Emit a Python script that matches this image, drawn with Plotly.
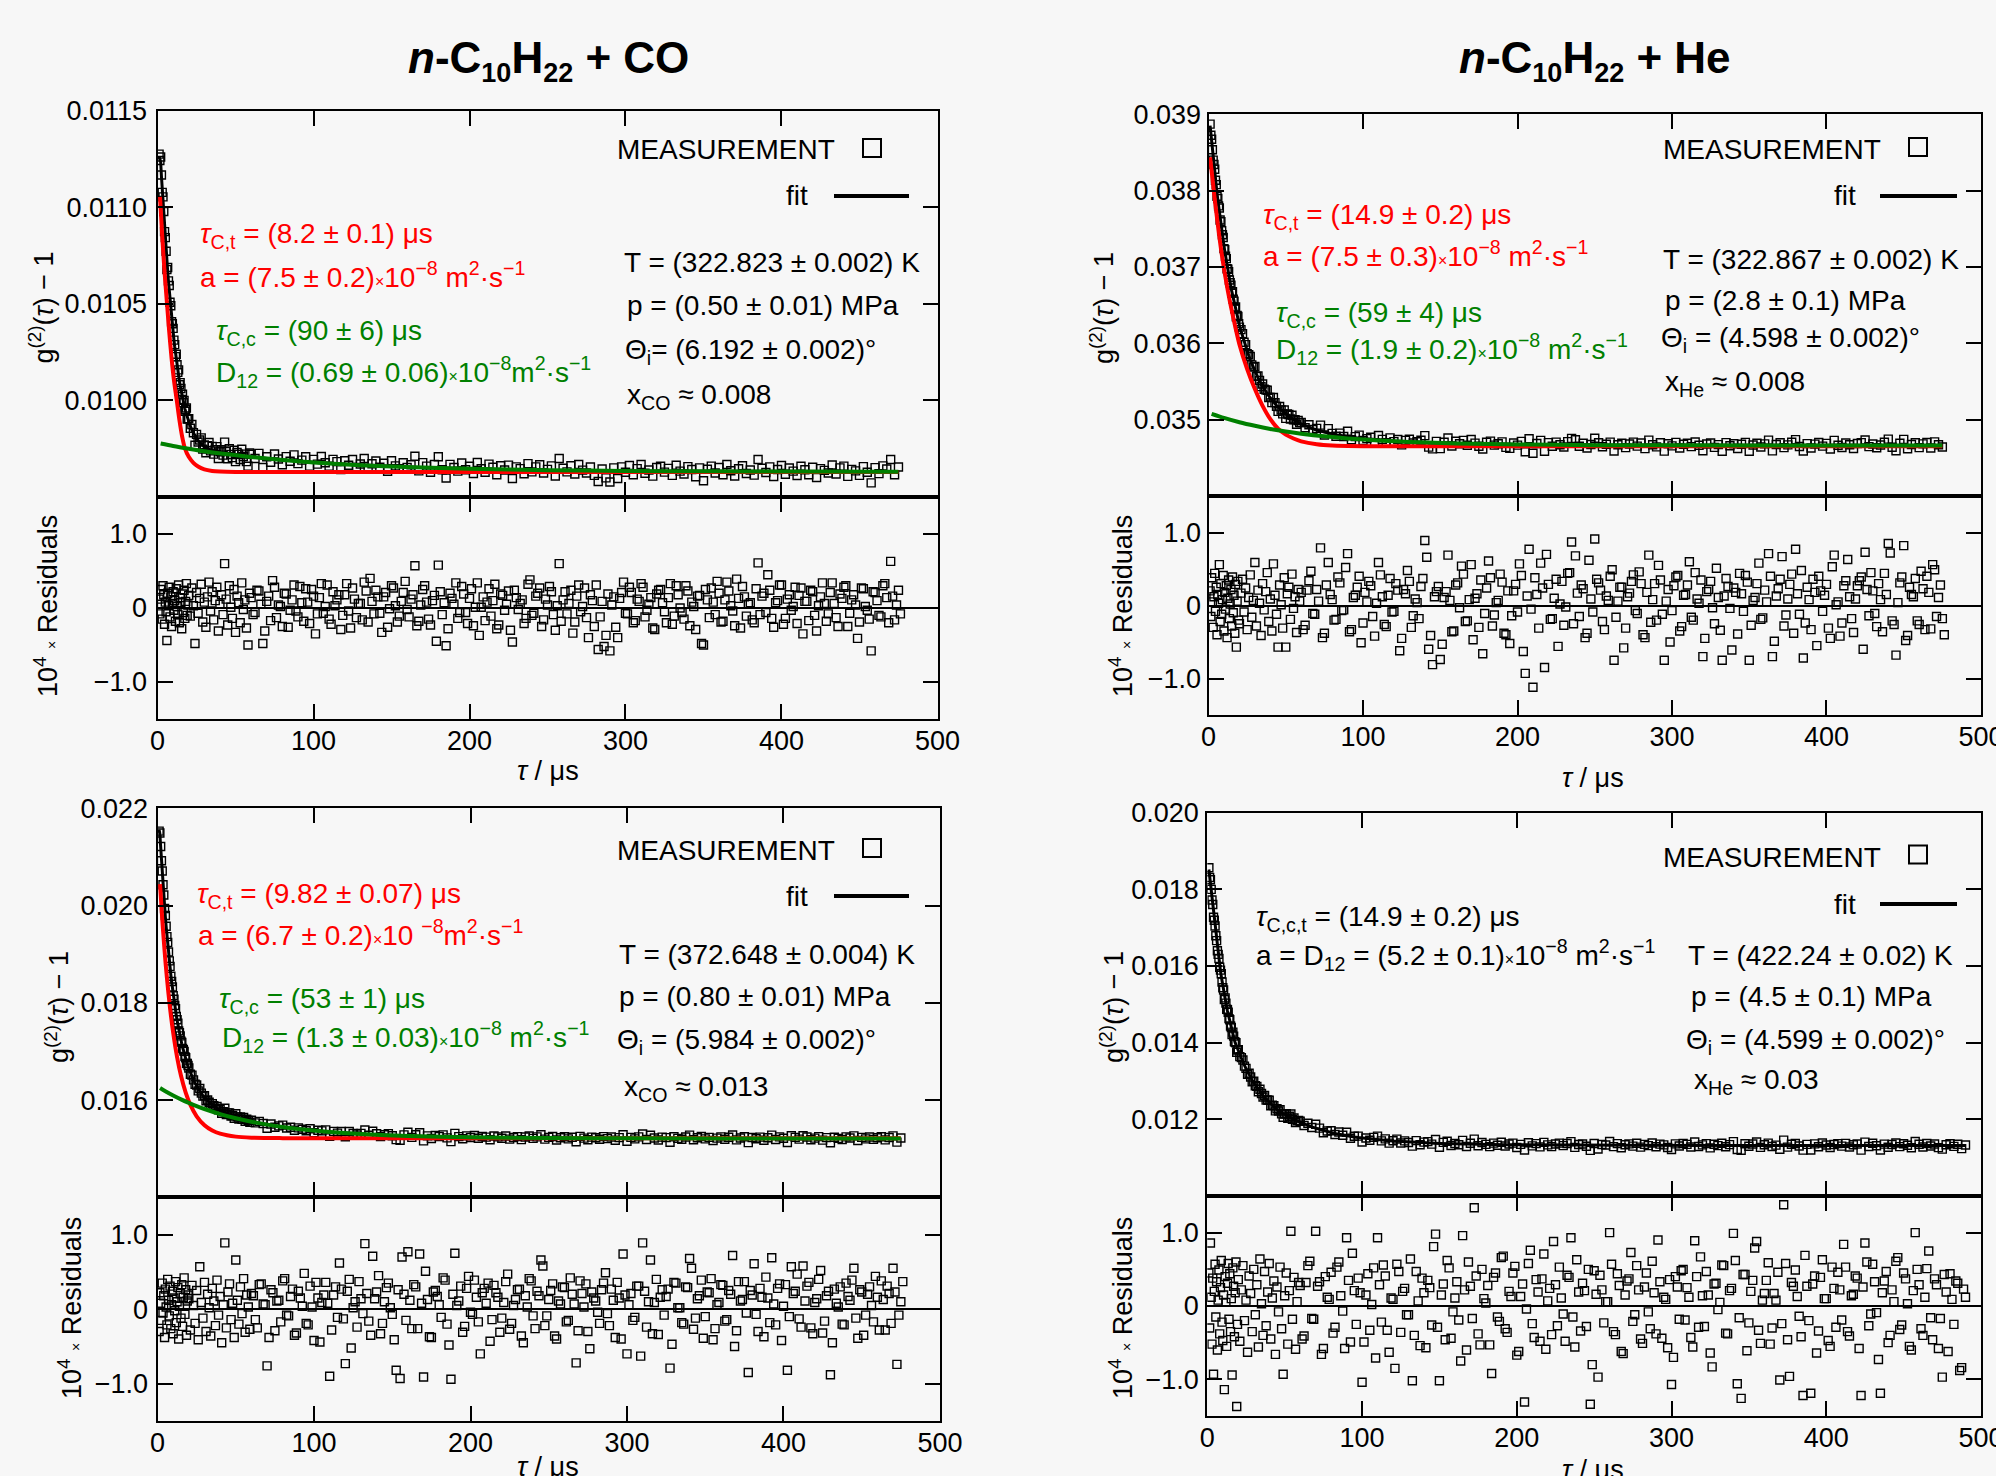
import numpy as np
import plotly.graph_objects as go

W, H = 1996, 1476
FONT = "Liberation Sans, Arial, Helvetica, sans-serif"
BG = "#f7f7f7"
RED = "#ff0000"
GREEN = "#008000"

G_UNIT = 1e-6      # g2-1 value lists are in units of 1e-6
RES_UNIT = 0.01    # residual lists are in units of 0.01 (of 10^4 x residual)

# lag-time grid segments (start, step) in microseconds
SEG_A = (1.0, 0.5)
SEG_B = (20.0, 1.0)
SEG_C = (60.0, 2.5)
SEG_D = (61.25, 2.5)   # extra residual samples between the SEG_C lags

x_ticks = [0, 100, 200, 300, 400, 500]
res_ticks = [-1.0, 0.0, 1.0]
res_ticktext = ["\u22121.0", "0", "1.0"]

# ---------------- top-left: n-C10H22 + CO, 322.823 K ----------------
fit_tl_a = [11263, 11250, 11235, 11162, 11092, 11024, 10960, 10896, 10835, 10777,
            10721, 10668, 10616, 10567, 10520, 10475, 10432, 10391, 10351, 10315,
            10279, 10245, 10213, 10183, 10154, 10127, 10101, 10078, 10055, 10033,
            10013, 9994, 9976, 9958, 9943, 9928, 9914, 9901]
fit_tl_b = [9889, 9867, 9848, 9830, 9816, 9803, 9792, 9782, 9774, 9767,
            9761, 9755, 9751, 9747, 9743, 9740, 9738, 9735, 9733, 9730,
            9729, 9727, 9726, 9724, 9723, 9721, 9720, 9719, 9718, 9717,
            9716, 9715, 9714, 9714, 9713, 9712, 9711, 9710, 9709, 9708]
fit_tl_c = [9707, 9705, 9703, 9701, 9699, 9697, 9695, 9693, 9692, 9690,
            9688, 9687, 9685, 9684, 9682, 9681, 9679, 9678, 9677, 9675,
            9674, 9673, 9672, 9671, 9670, 9668, 9667, 9666, 9665, 9664,
            9663, 9663, 9662, 9661, 9660, 9659, 9658, 9658, 9657, 9656,
            9655, 9655, 9654, 9653, 9653, 9652, 9651, 9651, 9650, 9650,
            9649, 9649, 9648, 9648, 9647, 9647, 9646, 9646, 9645, 9645,
            9645, 9644, 9644, 9643, 9643, 9643, 9642, 9642, 9642, 9641,
            9641, 9641, 9640, 9640, 9640, 9640, 9639, 9639, 9639, 9639,
            9638, 9638, 9638, 9638, 9637, 9637, 9637, 9637, 9637, 9636,
            9636, 9636, 9636, 9636, 9636, 9635, 9635, 9635, 9635, 9635,
            9635, 9635, 9635, 9635, 9634, 9634, 9634, 9634, 9634, 9634,
            9634, 9634, 9634, 9634, 9634, 9634, 9634, 9633, 9633, 9633,
            9633, 9633, 9633, 9633, 9633, 9633, 9633, 9633, 9633, 9633,
            9633, 9633, 9633, 9632, 9632, 9632, 9632, 9632, 9632, 9632,
            9632, 9632, 9632, 9632, 9632, 9632, 9632, 9632, 9632, 9632,
            9632, 9632, 9632, 9632, 9632, 9631, 9631, 9631, 9631, 9631,
            9631, 9631, 9631, 9631, 9631, 9631, 9631]
res_tl_a = [12, -8, 25, 5, -15, 30, 18, -22, 8, -5, -44, 20, 3, 28, -12, 15, -25, 6, 22, -3,
            10, -18, 26, 2, -9, 31, -20, 14, 7, -28, 19, -6, 24, -14, 9, 33, -10, 4]
res_tl_b = [17, -11, 27, 3, -48, 21, -7, 13, 32, -19, 8, -26, 15, 35, -4, 22, -16, 10, 28, -31,
            5, 18, -9, 60, 12, -23, 30, 1, -14, 25, -33, 16, 7, -20, 34, -2, 11, -27, -50, 20]
res_tl_c = [14, -6, 23, -48, 9, -17, 28, 4, -25, 19,
            -3, 31, -12, 7, 26, -21, 16, -8, 33, 2,
            -15, 22, 11, -29, 18, -4, 27, -13, 6, 35,
            -19, 9, 24, -7, 15, -26, 30, 3, -11, 21,
            -2, 12, 57, -18, 25, 8, -23, 17, 58, -9,
            -51, 20, 5, -14, 29, -6, 13, -24, 34, 1,
            -17, 26, 10, -28, 19, -3, 23, -46, 14, 6,
            -21, 32, -10, 16, 27, -16, 4, 22, -30, 60,
            11, -8, 24, -19, 31, 2, -13, 18, -25, -56,
            9, -37, -58, 15, -40, 21, -7, 28, -20, 12,
            33, -12, 5, -27, 19, 25, -5, 14, -22, 30,
            0, -15, 23, 8, -29, 17, -50, 11, 27, -9,
            20, -18, 35, 3, -24, 13, 29, -11, 7, -20,
            61, 16, -6, 24, -26, 10, 31, -14, 18, 2,
            -21, 27, 9, -17, 22, -31, 15, 6, -8, 34,
            -13, 19, 28, -25, 11, 4, -19, 26, -3, -58,
            21, -10, 30, 14, 63, -16, 24]
res_tl_d = [-9, 24, 5, -31, 16, 37, -13, 2, 20, -26,
            11, -4, 29, -18, 8, 25, -35, 14, -7, 31,
            -22, 3, 18, -10, 33, -27, 12, 6, -16, 23,
            40, -8, 15, -33, 21, -1, 27, -19, 9, 36,
            -12, 18, -24, 4, 30, -15, 10, -45, 22, 7,
            -28, 13, 34, -6, 19, -21, 26, 1, -37, 15,
            8, -11, 32, -23, 17, 5, -30, 24, -2, 11,
            -14, 38, -7, 20, -25, 12, 29, -9, 3, -18,
            22, 6, -34, 16, -5, 27, -40, 10, 31, -12,
            -52, 19, 4, -26, 13, 35, -8, 21, -17, 9,
            28, -3, 14, -29, 24, 7, -20, 33, -11, 18,
            -6, 30, -24, 2, 16, -48, 25, -13, 8, 36,
            -19, 11, 23, -4, 39, -27, 15, 5, -16, 26,
            -9, 20, 45, -14, 7, 31, -22, 12, -3, 28,
            17, -35, 9, 24, -10, 3, 34, -18, 21, 6,
            -25, 13, 30, -7, 18, -41, 27, 2, -15, 22,
            10, -12, 33, -20, 16, 4, -8]
red_tl_t = [1.6, 3, 4.5, 5.9, 7.5, 9, 10.5, 12.3, 14, 15.8, 17.6, 20, 23, 26, 30, 35, 40, 50, 100, 200, 300, 400, 475]
red_tl_v = [11054, 10852, 10666, 10519, 10355, 10218, 10106, 10002, 9900, 9812, 9750, 9708, 9677, 9658,
            9643, 9635, 9632, 9630, 9630, 9630, 9630, 9630, 9630]
green_tl_t = [2, 10, 20, 30, 45, 60, 80, 100, 130, 160, 200, 250, 300, 350, 400, 475]
green_tl_v = [9777, 9764, 9750, 9737, 9721, 9707, 9692, 9679, 9665, 9655, 9646, 9639, 9635, 9633, 9632, 9631]

# ---------------- top-right: n-C10H22 + He, 322.867 K ----------------
fit_tr_a = [38850, 38740, 38634, 38530, 38429, 38330, 38235, 38143, 38052, 37965,
            37880, 37796, 37715, 37637, 37561, 37486, 37414, 37344, 37275, 37209,
            37144, 37081, 37020, 36960, 36902, 36846, 36791, 36737, 36686, 36636,
            36586, 36538, 36491, 36447, 36403, 36359, 36318, 36277]
fit_tr_b = [36237, 36162, 36090, 36022, 35958, 35897, 35839, 35784, 35733, 35683,
            35637, 35592, 35550, 35511, 35473, 35437, 35403, 35371, 35340, 35311,
            35283, 35258, 35232, 35209, 35186, 35165, 35145, 35126, 35107, 35089,
            35073, 35057, 35042, 35028, 35014, 35001, 34988, 34977, 34966, 34955]
fit_tr_c = [34945, 34921, 34900, 34881, 34864, 34849, 34836, 34823, 34812, 34802,
            34793, 34785, 34777, 34770, 34763, 34757, 34752, 34747, 34743, 34739,
            34734, 34730, 34727, 34724, 34720, 34718, 34715, 34713, 34711, 34708,
            34706, 34704, 34702, 34700, 34698, 34696, 34695, 34693, 34691, 34690,
            34689, 34687, 34686, 34685, 34684, 34683, 34682, 34681, 34680, 34680,
            34679, 34678, 34677, 34677, 34676, 34675, 34675, 34674, 34673, 34673,
            34672, 34672, 34671, 34671, 34670, 34670, 34670, 34669, 34669, 34668,
            34668, 34668, 34667, 34667, 34667, 34666, 34666, 34666, 34666, 34665,
            34665, 34665, 34665, 34665, 34664, 34664, 34664, 34664, 34664, 34664,
            34663, 34663, 34663, 34663, 34663, 34663, 34663, 34663, 34663, 34663,
            34662, 34662, 34662, 34662, 34662, 34662, 34662, 34662, 34662, 34662,
            34662, 34662, 34661, 34661, 34661, 34661, 34661, 34661, 34661, 34661,
            34661, 34661, 34661, 34661, 34661, 34661, 34661, 34661, 34661, 34661,
            34661, 34661, 34661, 34661, 34661, 34661, 34660, 34660, 34660, 34660,
            34660, 34660, 34660, 34660, 34660, 34660, 34660, 34660, 34660, 34660,
            34660, 34660, 34660, 34660, 34660, 34660, 34660, 34660, 34660, 34660,
            34660, 34660, 34660, 34660, 34660, 34660, 34660]
res_tr_a = [20, -15, 38, 5, -30, 12, 44, -8, 25, -40, 15, 3, 56, -22, 30, -12, 8, 41, -35, 18,
            -5, 27, -44, 10, 35, -18, 2, 22, -28, 39, -10, 14, -38, 29, -57, 6, 33, -20]
res_tr_b = [-25, 17, 36, -9, 24, -33, 11, 42, -16, 7, 59, -28, 21, 3, -41, 30, -6, 19, 45, -22,
            9, -35, 57, 14, -12, -57, 28, 1, -31, 38, -57, 16, 25, -19, 43, -4, 12, -37, 22, 6]
res_tr_c = [18, -27, 34, -11, 22, 79, -38, 59, 8, -19,
            31, -6, 71, -33, 14, 40, -24, 5, 27, -42,
            59, 12, -29, 37, -8, 21, -45, 16, 33, -14,
            4, 26, 89, -60, -81, 19, -74, 11, 69, -36,
            28, -3, 43, -21, 56, 10, -30, -66, 24, 38,
            -13, 7, 32, -40, -52, 20, -9, 41, -93, 77,
            -112, 15, 58, -85, 29, -18, 36, 2, -27, 44,
            87, 68, -15, 23, -38, 9, 91, 31, -22, 13,
            40, -75, 6, 25, -31, 17, 42, -11, 30, -44,
            69, 8, -20, 35, -75, 22, -7, 39, -35, 14,
            28, -16, 45, 3, -70, 19, 33, -25, 11, -75,
            37, -4, 24, -39, 16, 41, -75, 7, 30, -19,
            21, 71, -70, 13, 36, -28, 9, 43, 77, -12,
            -72, 25, -33, 18, 40, -8, 29, -45, 69, 5,
            -24, 34, 12, -37, 27, 39, 73, -14, 20, -29,
            8, 44, 85, -21, -68, 31, 82, -41, 15, 37,
            -26, 23, 40, -32, 49, 11, -18]
res_tr_d = [-33, 21, 47, -12, 6, -44, 28, 15, -20, 39,
            -7, 52, -36, 11, 25, -51, 18, 33, -15, 3,
            42, -26, 14, -9, 30, -62, 22, 48, -30, 9,
            -18, 37, 66, -41, 12, 26, -53, 19, 7, -35,
            31, 54, -22, 8, -47, 16, 35, -11, 61, -28,
            4, 43, -38, 20, -14, 29, 57, -63, 13, -5,
            38, -31, 24, 70, -19, 10, -56, 33, -2, 45,
            -25, 17, 28, -44, 62, -9, 36, 21, -33, 7,
            49, -16, 25, -58, 12, 33, -7, 46, -40, 18,
            -23, 30, 55, -12, 6, -50, 27, 41, -29, 15,
            60, -20, 9, 35, -45, 22, -3, 51, -34, 13,
            26, -61, 18, 44, -8, 32, -27, 11, 58, -17,
            5, 40, -49, 23, 67, -13, 29, -38, 16, 48,
            -24, 8, 36, -55, 20, 14, -31, 53, 1, -42,
            27, 63, -18, 9, 34, -60, 22, 45, -11, 30,
            -36, 15, 72, -26, 4, 39, -48, 25, 12, -21,
            47, -33, 18, 56, -15, 28, -40]
red_tr_t = [1, 4, 8, 12, 16, 20, 25, 30, 35, 40, 45, 50, 55, 60, 70, 80, 100, 150, 250, 350, 475]
red_tr_v = [38437, 37891, 37246, 36741, 36336, 35983, 35663, 35401, 35180, 35006, 34883, 34803, 34753,
            34716, 34677, 34660, 34652, 34652, 34652, 34652, 34652]
green_tr_t = [2, 10, 20, 30, 40, 50, 60, 75, 90, 110, 130, 160, 200, 250, 300, 400, 475]
green_tr_v = [35076, 35023, 34966, 34919, 34878, 34844, 34816, 34781, 34754, 34727, 34708, 34689,
              34675, 34666, 34663, 34660, 34660]

# ---------------- bottom-left: n-C10H22 + CO, 372.648 K ----------------
fit_bl_a = [21559, 21469, 21206, 20934, 20675, 20431, 20198, 19977, 19768, 19569,
            19381, 19202, 19032, 18870, 18717, 18572, 18433, 18302, 18177, 18059,
            17947, 17840, 17738, 17642, 17550, 17462, 17379, 17300, 17225, 17153,
            17086, 17020, 16959, 16900, 16844, 16790, 16740, 16691]
fit_bl_b = [16645, 16559, 16481, 16410, 16345, 16285, 16231, 16180, 16134, 16093,
            16054, 16018, 15985, 15955, 15926, 15899, 15875, 15853, 15831, 15811,
            15793, 15774, 15758, 15742, 15727, 15714, 15700, 15688, 15675, 15664,
            15653, 15643, 15632, 15622, 15613, 15604, 15596, 15587, 15579, 15571]
fit_bl_c = [15564, 15546, 15529, 15513, 15498, 15484, 15472, 15459, 15447, 15436,
            15425, 15415, 15406, 15397, 15388, 15380, 15372, 15365, 15358, 15351,
            15344, 15338, 15332, 15327, 15321, 15316, 15311, 15307, 15302, 15298,
            15294, 15290, 15286, 15283, 15279, 15276, 15273, 15270, 15267, 15265,
            15262, 15260, 15258, 15255, 15253, 15251, 15249, 15248, 15246, 15244,
            15243, 15241, 15240, 15238, 15237, 15236, 15235, 15233, 15232, 15231,
            15230, 15229, 15229, 15228, 15227, 15226, 15225, 15225, 15224, 15223,
            15223, 15222, 15222, 15221, 15221, 15220, 15220, 15219, 15219, 15218,
            15218, 15218, 15217, 15217, 15217, 15216, 15216, 15216, 15215, 15215,
            15215, 15215, 15215, 15214, 15214, 15214, 15214, 15213, 15213, 15213,
            15213, 15213, 15213, 15213, 15213, 15212, 15212, 15212, 15212, 15212,
            15212, 15212, 15212, 15212, 15212, 15212, 15212, 15212, 15212, 15212,
            15212, 15212, 15211, 15211, 15211, 15211, 15211, 15211, 15211, 15211,
            15211, 15211, 15211, 15211, 15211, 15211, 15211, 15210, 15210, 15210,
            15210, 15210, 15210, 15210, 15210, 15210, 15210, 15210, 15210, 15210,
            15210, 15210, 15210, 15210, 15210, 15210, 15210, 15210, 15210, 15210,
            15210, 15210, 15210, 15210, 15210, 15210, 15210]
res_bl_a = [-30, 22, 8, -15, 35, -5, 18, -38, 27, 3, -21, 40, 12, -9, 31, -26, 6, 24, -33, 15,
            -2, 37, -18, 10, 29, -40, 4, 21, -12, 33, -23, 16, 42, -7, 26, -35, 11, 19]
res_bl_b = [14, -28, 32, 5, -19, 25, -41, 57, 9, -12, 36, -30, 20, 2, -36, 28, 11, -22, 39, -8,
            17, -45, 6, 89, -25, 23, 34, -14, 8, -38, 66, 12, -20, 30, -6, 41, -31, 19, 3, -27]
res_bl_c = [21, -14, 33, 7, -76, 26, -29, 12, 38, -8,
            17, -35, 24, 4, -19, 31, -42, 15, 9, 36,
            -90, 19, -11, 27, -73, 40, 2, -24, 14, 88,
            -16, 71, 23, -33, 10, 35, -7, -82, -93, 20,
            77, -26, 30, 74, -91, 13, -38, 25, 6, 42,
            -20, -94, 75, 11, -31, 28, -4, 39, -17, 22,
            8, -43, 32, 16, -12, 37, -27, 5, 26, -36,
            18, 41, -9, 24, 66, -22, 13, 34, -40, 7,
            29, -15, 20, -72, 38, 3, -30, 23, 11, -19,
            35, -6, 27, -38, 15, 74, -60, 21, -11, 31,
            89, -24, 66, 9, -34, 26, 17, -79, 36, 2,
            -18, 30, 68, -27, 14, 39, -10, 22, -41, 6,
            33, -16, 25, 72, -29, 11, 37, -85, 19, -7,
            28, -37, 15, 69, -21, 34, 4, -82, 57, 24,
            -13, 58, 31, -25, 9, 40, -32, 18, -88, 27,
            3, -20, 35, 12, 55, -39, 23, -8, 30, -17,
            16, 38, -28, 21, 55, -74, 10]
res_bl_d = [18, -25, 34, 6, -38, 22, 11, -17, 41, -9,
            27, -32, 15, 48, -21, 3, 36, -44, 19, 8,
            -28, 30, 62, -13, 24, -52, 10, 37, -6, 21,
            -35, 14, 45, -19, 29, 2, -41, 26, 70, -15,
            12, 33, -26, 8, 51, -37, 23, 17, -11, 39,
            -48, 20, 5, 31, -23, 44, -7, 16, -60, 28,
            35, -14, 22, -31, 9, 47, -19, 13, 27, -45,
            3, 38, -26, 18, 58, -9, 25, -36, 11, 30,
            -17, 42, 7, -29, 21, 34, -53, 15, -4, 26,
            49, -22, 12, 36, -40, 19, 6, -15, 31, -63,
            24, 10, -33, 40, 16, -8, 27, -47, 35, 2,
            -20, 29, 55, -12, 18, -39, 23, 41, -26, 9,
            32, -14, 20, -50, 37, 13, -5, 25, 61, -30,
            16, 43, -18, 7, 28, -42, 33, -10, 21, 47,
            -24, 11, 36, -33, 14, 52, -16, 24, -45, 8,
            30, -21, 17, 39, -12, 26, -35, 20, 5, 44,
            -28, 13, 31, -19, 23, -8, 37]
red_bl_t = [1.6, 3, 4.5, 6, 8, 10, 12.5, 15, 18, 21, 25, 30, 35, 40, 50, 60, 80, 100, 200, 300, 400, 475]
red_bl_v = [20439, 19727, 19071, 18511, 17888, 17384, 16884, 16500, 16154, 15901, 15667, 15483, 15374,
            15310, 15249, 15228, 15218, 15216, 15216, 15216, 15216, 15216]
green_bl_t = [1.6, 5, 10, 15, 20, 25, 30, 40, 50, 60, 75, 90, 110, 130, 160, 200, 250, 300, 400, 475]
green_bl_v = [16247, 16183, 16095, 16015, 15943, 15877, 15817, 15713, 15626, 15555, 15470, 15406,
              15344, 15302, 15262, 15235, 15220, 15214, 15211, 15210]

# ---------------- bottom-right: n-C10H22 + He, 422.24 K ----------------
fit_br_a = [18517, 18338, 18166, 17987, 17774, 17567, 17367, 17174, 16987, 16805,
            16630, 16460, 16295, 16146, 16005, 15868, 15735, 15606, 15481, 15360,
            15242, 15128, 15026, 14927, 14830, 14736, 14645, 14556, 14469, 14385,
            14303, 14223, 14145, 14069, 13995, 13940, 13887, 13834]
fit_br_b = [13783, 13683, 13587, 13495, 13407, 13322, 13241, 13163, 13088, 13017,
            12948, 12888, 12831, 12776, 12722, 12671, 12622, 12574, 12528, 12484,
            12441, 12400, 12361, 12323, 12286, 12251, 12224, 12198, 12173, 12149,
            12125, 12102, 12080, 12058, 12037, 12016, 11996, 11977, 11958, 11940]
fit_br_c = [11922, 11880, 11841, 11804, 11770, 11738, 11709, 11682, 11656, 11633,
            11611, 11590, 11571, 11554, 11539, 11525, 11512, 11500, 11489, 11478,
            11468, 11459, 11450, 11442, 11434, 11427, 11420, 11414, 11408, 11402,
            11397, 11392, 11388, 11383, 11379, 11376, 11372, 11369, 11366, 11363,
            11360, 11358, 11355, 11353, 11351, 11349, 11347, 11346, 11344, 11342,
            11341, 11340, 11338, 11337, 11336, 11335, 11334, 11333, 11332, 11331,
            11331, 11330, 11329, 11329, 11328, 11328, 11327, 11327, 11326, 11326,
            11325, 11325, 11325, 11324, 11324, 11324, 11323, 11323, 11323, 11323,
            11323, 11322, 11322, 11322, 11322, 11322, 11322, 11322, 11321, 11321,
            11321, 11321, 11321, 11321, 11321, 11321, 11321, 11321, 11321, 11321,
            11321, 11321, 11321, 11321, 11321, 11320, 11320, 11320, 11320, 11320,
            11320, 11320, 11320, 11320, 11320, 11320, 11320, 11320, 11320, 11320,
            11320, 11320, 11320, 11320, 11320, 11320, 11320, 11320, 11320, 11320,
            11320, 11320, 11320, 11320, 11320, 11320, 11320, 11320, 11320, 11320,
            11320, 11320, 11320, 11320, 11320, 11320, 11320, 11320, 11320, 11320,
            11320, 11320, 11320, 11320, 11320, 11320, 11320, 11320, 11320, 11320,
            11320, 11320, 11320, 11320, 11320, 11320, 11320, 11320, 11320, 11320,
            11320, 11320, 11320]
res_br_a = [45, -30, 86, 12, -52, 38, -93, 20, 57, -15, 33, -60, 8, 49, -38, 25, 62, -22, -47, 15,
            -114, 40, 5, -55, 31, 58, -18, 44, -35, 10, -94, 52, 27, -42, 18, 60, -137, -25]
res_br_b = [36, -48, 22, 55, -20, 8, -63, 41, 17, -35, 50, -12, 29, -56, 64, 3, -40, 47, -27, 19,
            58, -45, 11, 34, -66, 26, -8, 53, -31, -93, 14, 45, -52, 21, 102, -18, 39, -59, 6, 32]
res_br_c = [28, -41, 55, -17, 102, 33, -58, 12, 46, -29,
            60, -7, 93, -49, 21, 38, -104, 15, -33, 52,
            93, -22, 41, -63, 9, 57, -36, 24, -12, -102,
            47, -54, 18, 35, -26, 98, -102, 30, 62, -44,
            11, -19, 96, -60, 27, 134, -38, 50, 4, -53,
            39, -15, 66, -31, 20, 45, -67, 13, -131, 58,
            -24, 36, -48, 71, 7, -39, 29, 53, -11, 42,
            93, -56, 19, 31, -28, -134, 48, -97, 22, 6,
            100, -35, 44, -62, 15, 37, -21, 55, -45, 26,
            -8, 61, -38, 33, 12, -57, -107, 40, -18, 50,
            25, -43, 89, -29, 14, 47, -64, 30, -5, 56,
            -37, 21, 99, -106, -126, 43, -23, 35, 88, -51,
            17, 59, -30, 8, -101, 138, -46, 32, 49, -14,
            -122, 27, -119, 41, -34, 63, 10, -55, 24, 46,
            -19, 53, -41, 16, 38, -122, 86, -27, 57, -9,
            -119, 34, -50, 22, 61, -32, 45, 3, -60, 100,
            29, -40, 51, -16, 37, -58, -97, 19, 44, -25,
            31, -84, 12]
res_br_d = [-45, 32, 61, -18, 27, -66, 40, 9, -37, 53,
            14, -58, 35, 72, -25, 18, -49, 44, 2, -71,
            29, 56, -33, 11, -85, 47, 20, -12, 64, -40,
            7, 38, -57, 25, 81, -29, 15, -46, 52, -8,
            33, -75, 22, 60, -17, 41, -53, 10, 28, -92,
            45, -21, 68, -36, 13, 54, -62, 30, -4, 76,
            -43, 19, 37, -59, 24, 88, -27, 11, -48, 39,
            -15, 63, -34, 21, 50, -80, 16, 42, -23, 6,
            57, -39, 28, -65, 34, 73, -12, 22, -51, 45,
            -31, 18, 90, -44, 9, 36, -70, 26, 48, -19,
            12, -56, 40, 67, -28, 15, -83, 31, 5, 55,
            -38, 24, 62, -16, 43, -61, 20, 79, -33, 8,
            35, -52, 17, 46, -24, 58, -96, 27, 13, -42,
            69, -20, 30, -64, 39, 10, -47, 53, -29, 22,
            84, -35, 14, 41, -58, 26, 60, -11, 33, -73,
            18, 47, -40, 6, 66, -26, 37, -55, 21, 50,
            -31, 12, 75, -46, 29, -17, 43, -62, 9, 34,
            -88, 23]


def grid(seg, n):
    return seg[0] + seg[1] * np.arange(n)


def build(fit_segs, res_segs):
    taus, fits, ress = [], [], []
    for seg, f, r in zip((SEG_A, SEG_B, SEG_C), fit_segs, res_segs):
        n = min(len(f), len(r))
        taus.append(grid(seg, n))
        fits.append(np.asarray(f[:n], float))
        ress.append(np.asarray(r[:n], float))
    return np.concatenate(taus), np.concatenate(fits), np.concatenate(ress)


def px_x(v):
    return v / W


def px_y(v):
    return 1 - v / H


panels = [
    dict(fit=(fit_tl_a, fit_tl_b, fit_tl_c), res=(res_tl_a, res_tl_b, res_tl_c), resd=res_tl_d,
         red=(red_tl_t, red_tl_v), green=(green_tl_t, green_tl_v),
         xpx=(157.5, 937.5), yu=(110.5, 497), yl=(497, 719),
         yr=(0.0095, 0.0115), yt=[0.0100, 0.0105, 0.0110, 0.0115],
         ytt=["0.0100", "0.0105", "0.0110", "0.0115"], ystand=3),
    dict(fit=(fit_tr_a, fit_tr_b, fit_tr_c), res=(res_tr_a, res_tr_b, res_tr_c), resd=res_tr_d,
         red=(red_tr_t, red_tr_v), green=(green_tr_t, green_tr_v),
         xpx=(1208.5, 1981), yu=(114, 496), yl=(496, 715),
         yr=(0.034, 0.039), yt=[0.035, 0.036, 0.037, 0.038, 0.039],
         ytt=["0.035", "0.036", "0.037", "0.038", "0.039"], ystand=0),
    dict(fit=(fit_bl_a, fit_bl_b, fit_bl_c), res=(res_bl_a, res_bl_b, res_bl_c), resd=res_bl_d,
         red=(red_bl_t, red_bl_v), green=(green_bl_t, green_bl_v),
         xpx=(157.5, 940), yu=(808, 1197.4), yl=(1197.4, 1421),
         yr=(0.014, 0.022), yt=[0.016, 0.018, 0.020, 0.022],
         ytt=["0.016", "0.018", "0.020", "0.022"], ystand=2),
    dict(fit=(fit_br_a, fit_br_b, fit_br_c), res=(res_br_a, res_br_b, res_br_c), resd=res_br_d,
         red=None, green=None,
         xpx=(1207.3, 1981), yu=(812.5, 1196), yl=(1196, 1416),
         yr=(0.010, 0.020), yt=[0.012, 0.014, 0.016, 0.018, 0.020],
         ytt=["0.012", "0.014", "0.016", "0.018", "0.020"], ystand=1),
]

fig = go.Figure()
layout_axes = {}
TICKFONT = dict(family=FONT, size=27, color="black")
common = dict(showline=True, linewidth=2, linecolor="black", mirror="ticks",
              ticks="inside", ticklen=15, tickwidth=2, tickcolor="black",
              showgrid=False, tickfont=TICKFONT, automargin=False,
              ticklabeloverflow="allow")
SQUARE = dict(symbol="square-open", size=8, color="black", line=dict(width=1.4, color="black"))

for i, p in enumerate(panels):
    iu, il = 2 * i + 1, 2 * i + 2
    xu, yu_ = f"x{iu}", f"y{iu}"
    xl, yl_ = f"x{il}", f"y{il}"
    tau, fit, res = build(p["fit"], p["res"])
    g = fit * G_UNIT + res * RES_UNIT * 1e-4
    # hidden black fit line, then measurement squares
    fig.add_trace(go.Scatter(x=tau, y=fit * G_UNIT, mode="lines",
                             line=dict(color="black", width=3), xaxis=xu, yaxis=yu_,
                             hoverinfo="skip"))
    fig.add_trace(go.Scatter(x=tau, y=g, mode="markers", marker=SQUARE, xaxis=xu, yaxis=yu_))
    if p["red"] is not None:
        fig.add_trace(go.Scatter(x=p["red"][0], y=np.asarray(p["red"][1]) * G_UNIT, mode="lines",
                                 line=dict(color=RED, width=4, shape="spline", smoothing=0.8),
                                 xaxis=xu, yaxis=yu_))
        fig.add_trace(go.Scatter(x=p["green"][0], y=np.asarray(p["green"][1]) * G_UNIT, mode="lines",
                                 line=dict(color=GREEN, width=4, shape="spline", smoothing=0.8),
                                 xaxis=xu, yaxis=yu_))
    fig.add_trace(go.Scatter(x=tau, y=res * RES_UNIT, mode="markers", marker=SQUARE,
                             xaxis=xl, yaxis=yl_))
    resd = np.asarray(p["resd"], float)
    fig.add_trace(go.Scatter(x=grid(SEG_D, len(resd)), y=resd * RES_UNIT, mode="markers",
                             marker=SQUARE, xaxis=xl, yaxis=yl_))

    xdom = [px_x(p["xpx"][0]), px_x(p["xpx"][1])]
    span = p["yr"][1] - p["yr"][0]
    sfx_u = "" if iu == 1 else str(iu)
    sfx_l = str(il)
    layout_axes["xaxis" + sfx_u] = dict(common, domain=xdom, range=[-0.02, 500.02], anchor=yu_,
                                        tickvals=x_ticks, showticklabels=False, zeroline=False)
    layout_axes["yaxis" + sfx_u] = dict(common, domain=[px_y(p["yu"][1]), px_y(p["yu"][0])],
                                        range=[p["yr"][0], p["yr"][1] + span * 0.0005], anchor=xu,
                                        tickvals=p["yt"], ticktext=p["ytt"], zeroline=False,
                                        ticklabelstandoff=p["ystand"])
    layout_axes["xaxis" + sfx_l] = dict(common, domain=xdom, range=[-0.02, 500.02], anchor=yl_,
                                        tickvals=x_ticks, ticktext=[str(v) for v in x_ticks],
                                        zeroline=False, ticklabelstandoff=-3)
    layout_axes["yaxis" + sfx_l] = dict(common, domain=[px_y(p["yl"][1]), px_y(p["yl"][0])],
                                        range=[-1.5, 1.5], anchor=xl,
                                        tickvals=res_ticks, ticktext=res_ticktext,
                                        zeroline=True, zerolinecolor="black", zerolinewidth=1.5,
                                        ticklabelstandoff=p["ystand"])

annotations = []


def ann(x, y, text, color="black", size=28, xanchor="left", angle=0):
    annotations.append(dict(x=px_x(x), y=px_y(y), xref="paper", yref="paper", text=text,
                            showarrow=False, xanchor=xanchor, yanchor="middle", textangle=angle,
                            font=dict(family=FONT, size=size, color=color)))


TIMES = "<span style='font-size:16px'>\u00d7</span>"
TAU = "<i>\u03c4</i>"


def small_sub(s):
    return "<sub><span style='font-size:27px'>" + s + "</span></sub>"


# titles
ann(548, 61, "<b><i>n</i>-C" + small_sub("10") + "H" + small_sub("22") + " + CO</b>", size=44, xanchor="center")
ann(1595, 61, "<b><i>n</i>-C" + small_sub("10") + "H" + small_sub("22") + " + He</b>", size=44, xanchor="center")

ylab = "g<sup>(2)</sup>(" + TAU + ") \u2212 1"
rlab = "10<sup>4</sup> <span style='font-size:14px'>\u00d7</span> Residuals"
xlab = TAU + " / \u03bcs"
for (gx, gy), (rx, ry), (xx, xy) in [((41.5, 308), (46, 606), (548, 771)),
                                     ((1102, 308), (1121, 606), (1593, 778)),
                                     ((57, 1007), (70, 1308), (548, 1467)),
                                     ((1112, 1007), (1121, 1308), (1593, 1470))]:
    ann(gx, gy, ylab, size=27, xanchor="center", angle=-90)
    ann(rx, ry, rlab, size=27, xanchor="center", angle=-90)
    ann(xx, xy, xlab, size=27, xanchor="center")

# legends
shapes = []
for (mx, my, sx, sy, fx, fy, lx0, lx1) in [(837, 150, 872, 148, 810, 196, 834, 909),
                                           (1883, 150, 1918, 147, 1858, 196, 1880, 1957),
                                           (837, 851, 872, 848, 810, 896, 834, 909),
                                           (1883, 857, 1918, 854.5, 1858, 904, 1880, 1957)]:
    ann(mx, my, "MEASUREMENT", xanchor="right")
    ann(fx, fy, "fit", xanchor="right")
    shapes.append(dict(type="rect", xref="paper", yref="paper",
                       x0=px_x(sx - 9), x1=px_x(sx + 9), y0=px_y(sy + 9), y1=px_y(sy - 9),
                       line=dict(color="black", width=2)))
    shapes.append(dict(type="line", xref="paper", yref="paper",
                       x0=px_x(lx0), x1=px_x(lx1), y0=px_y(fy), y1=px_y(fy),
                       line=dict(color="black", width=4)))

# top-left texts
ann(198, 236, TAU + "<sub>C,t</sub> = (8.2 \u00b1 0.1) \u03bcs", RED)
ann(198, 275, "a = (7.5 \u00b1 0.2)" + TIMES + "10<sup>\u22128</sup> m<sup>2</sup>\u00b7s<sup>\u22121</sup>", RED)
ann(214, 333, TAU + "<sub>C,c</sub> = (90 \u00b1 6) \u03bcs", GREEN)
ann(214, 372, "D<sub>12</sub> = (0.69 \u00b1 0.06)" + TIMES + "10<sup>\u22128</sup>m<sup>2</sup>\u00b7s<sup>\u22121</sup>", GREEN)
ann(622, 262, "T = (322.823 \u00b1 0.002) K")
ann(625, 306, "p = (0.50 \u00b1 0.01) MPa")
ann(623, 351, "\u0398<sub>i</sub>= (6.192 \u00b1 0.002)\u00b0")
ann(625, 396, "x<sub>CO</sub> \u2248 0.008")

# top-right texts
ann(1261, 216, TAU + "<sub>C,t</sub> = (14.9 \u00b1 0.2) \u03bcs", RED)
ann(1261, 254, "a = (7.5 \u00b1 0.3)" + TIMES + "10<sup>\u22128</sup> m<sup>2</sup>\u00b7s<sup>\u22121</sup>", RED)
ann(1274, 315, TAU + "<sub>C,c</sub> = (59 \u00b1 4) \u03bcs", GREEN)
ann(1274, 349, "D<sub>12</sub> = (1.9 \u00b1 0.2)" + TIMES + "10<sup>\u22128</sup> m<sup>2</sup>\u00b7s<sup>\u22121</sup>", GREEN)
ann(1661, 260, "T = (322.867 \u00b1 0.002) K")
ann(1663, 301, "p = (2.8 \u00b1 0.1) MPa")
ann(1659, 339, "\u0398<sub>i</sub> = (4.598 \u00b1 0.002)\u00b0")
ann(1663, 383, "x<sub>He</sub> \u2248 0.008")

# bottom-left texts
ann(195, 895, TAU + "<sub>C,t</sub> = (9.82 \u00b1 0.07) \u03bcs", RED)
ann(196, 933, "a = (6.7 \u00b1 0.2)" + TIMES + "10 <sup>\u22128</sup>m<sup>2</sup>\u00b7s<sup>\u22121</sup>", RED)
ann(217, 1000, TAU + "<sub>C,c</sub> = (53 \u00b1 1) \u03bcs", GREEN)
ann(220, 1037, "D<sub>12</sub> = (1.3 \u00b1 0.03)" + TIMES + "10<sup>\u22128</sup> m<sup>2</sup>\u00b7s<sup>\u22121</sup>", GREEN)
ann(617, 954, "T = (372.648 \u00b1 0.004) K")
ann(617, 996, "p = (0.80 \u00b1 0.01) MPa")
ann(615, 1041, "\u0398<sub>i</sub> = (5.984 \u00b1 0.002)\u00b0")
ann(622, 1088, "x<sub>CO</sub> \u2248 0.013")

# bottom-right texts
ann(1254, 918, TAU + "<sub>C,c,t</sub> = (14.9 \u00b1 0.2) \u03bcs")
ann(1254, 955, "a = D<sub>12</sub> = (5.2 \u00b1 0.1)" + TIMES + "10<sup>\u22128</sup> m<sup>2</sup>\u00b7s<sup>\u22121</sup>")
ann(1686, 955, "T = (422.24 \u00b1 0.02) K")
ann(1689, 996, "p = (4.5 \u00b1 0.1) MPa")
ann(1684, 1041, "\u0398<sub>i</sub> = (4.599 \u00b1 0.002)\u00b0")
ann(1692, 1081, "x<sub>He</sub> \u2248 0.03")

fig.update_layout(width=W, height=H, margin=dict(l=0, r=0, t=0, b=0, autoexpand=False),
                  paper_bgcolor=BG, plot_bgcolor=BG, showlegend=False,
                  font=dict(family=FONT, size=28, color="black"),
                  annotations=annotations, shapes=shapes, **layout_axes)

PAGE_FIX = ("document.documentElement.style.margin='0';document.body.style.margin='0';"
            "document.body.style.padding='0';document.documentElement.style.overflow='hidden';"
            "document.body.style.overflow='hidden';")
fig.write_html("out.html", post_script=PAGE_FIX,
               config=dict(displayModeBar=False, responsive=False))
